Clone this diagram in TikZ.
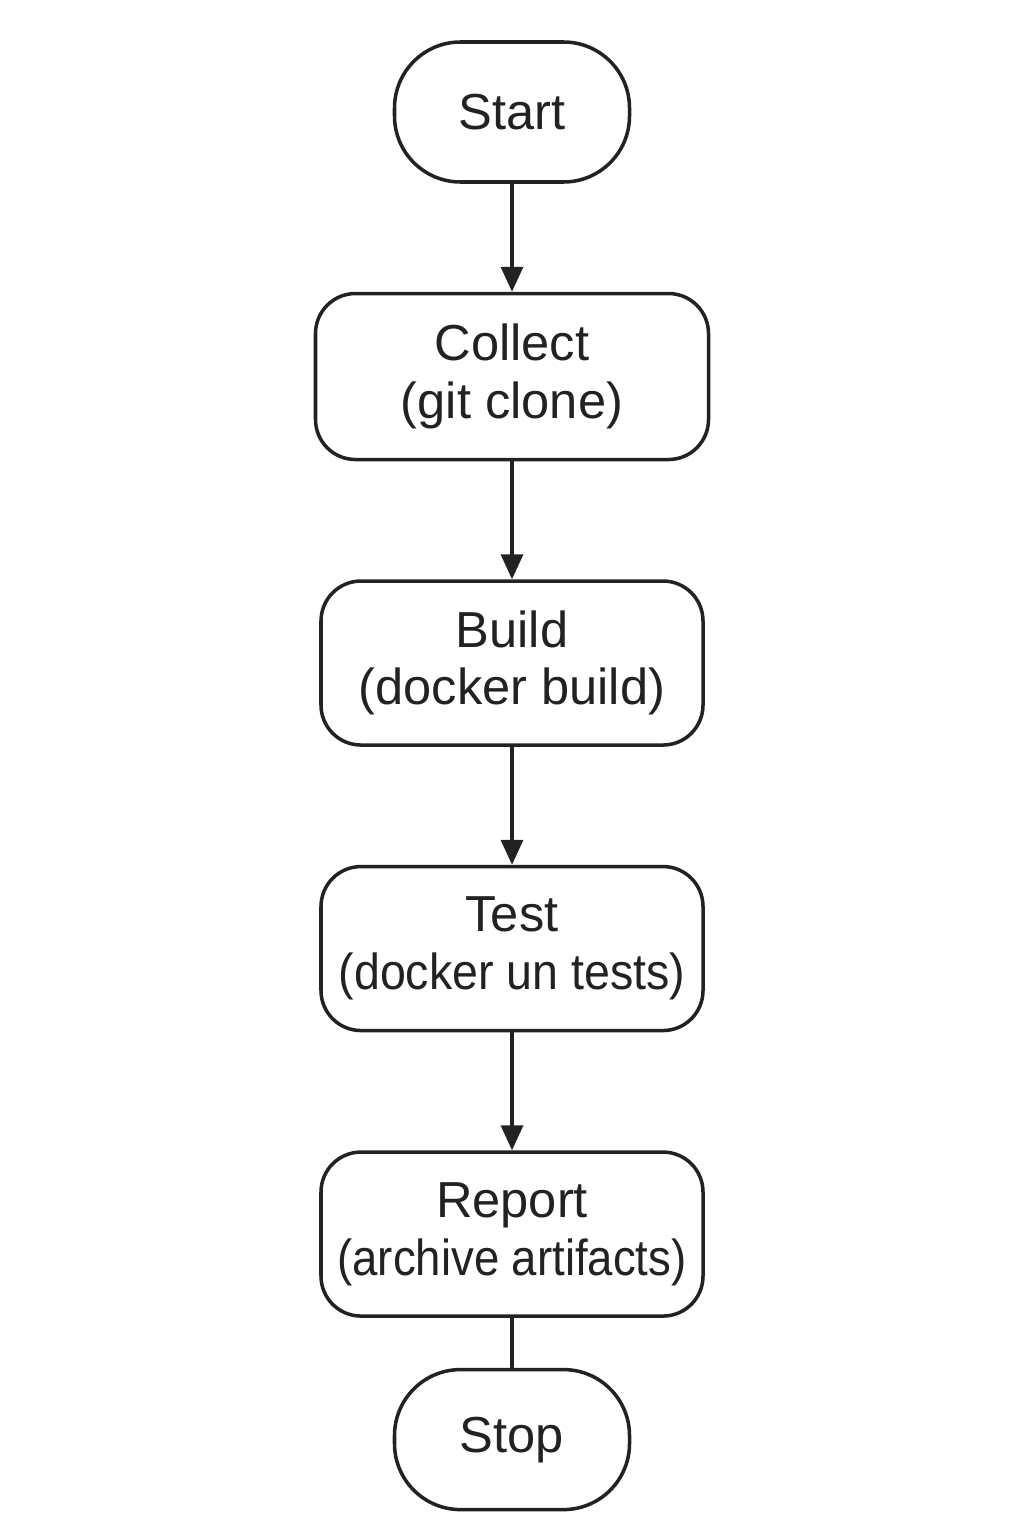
\documentclass[tikz,border=0pt]{standalone}
\usepackage{fontspec}
\setmainfont{Liberation Sans}
\newfontfamily\narrowfont{Liberation Sans}[FakeStretch=0.9]
\newfontfamily\testfont{Liberation Sans}[FakeStretch=0.92]
\usepackage{xcolor}
\usepackage{tikz}
\usetikzlibrary{arrows.meta}
\usetikzlibrary{positioning}
\definecolor{ink}{HTML}{222222}
\newcommand{\stepfont}{\fontsize{14.4}{16.4}\selectfont}

\begin{document}
\begin{tikzpicture}[x=1cm,y=1cm,node distance=1.18cm]
    \tikzstyle{terminal} = [rectangle, draw=ink, line width=1pt, rounded corners=0.66cm,
        minimum width=2.35cm, minimum height=1.40cm, inner sep=0pt, align=center, font=\stepfont, text=ink]
    \tikzstyle{stepbox} = [rectangle, draw=ink, line width=1pt, rounded corners=0.4cm,
        minimum width=3.82cm, minimum height=1.64cm, inner sep=0pt, align=center, font=\stepfont, text=ink]
    \tikzstyle{flow} = [-{Triangle[length=0.25cm,width=0.22cm]}, draw=ink, line width=1pt]
    \tikzstyle{plainlink} = [draw=ink, line width=1pt]
        %%% canvas
        \useasboundingbox (0,0) rectangle (10.24,-15.36);
        %%% start %%%
        \node[terminal] (start) at (5.12,-1.12) {Start};
        %%% steps %%%
        \node[stepbox,minimum width=3.93cm,minimum height=1.66cm,below=1.08cm of start] (collect) {Collect\\(git clone)};
        \node[stepbox,below=of collect] (build) {Build\\(docker build)};
        \node[stepbox,below=of build] (test) {Test\\{\testfont(docker un tests)}};
        \node[stepbox,below=of test] (report) {Report\\{\narrowfont(archive artifacts)}};
        %%% stop %%%
        \node[terminal,below=0.50cm of report] (stop) {Stop};
        %%% connections
        \draw[flow] (start) -- (collect);
        \draw[flow] (collect) -- (build);
        \draw[flow] (build) -- (test);
        \draw[flow] (test) -- (report);
        \draw[plainlink] (report) -- (stop);
    \end{tikzpicture}
\end{document}
